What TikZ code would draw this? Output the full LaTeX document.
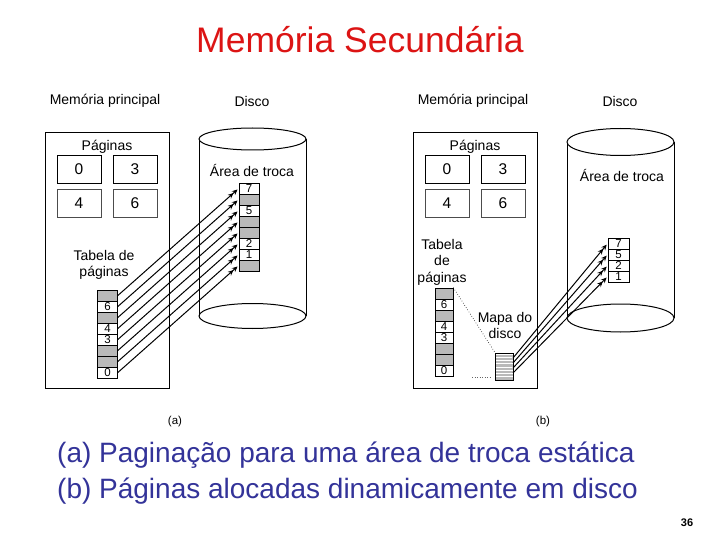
\documentclass[tikz,border=0pt]{standalone}
\usepackage{fontspec}
\setmainfont{Liberation Sans}
\usetikzlibrary{arrows.meta}
\definecolor{titlered}{RGB}{220,20,20}
\definecolor{capblue}{RGB}{51,51,153}
\definecolor{cellgray}{RGB}{185,185,185}
\begin{document}
\begin{tikzpicture}[x=1pt,y=-1pt,
  lbl/.style={font=\fontsize{14}{16}\selectfont, inner sep=0pt, align=center},
  pbox/.style={draw, line width=0.9pt, minimum width=44pt, minimum height=28pt, inner sep=0pt, font=\fontsize{15.5}{17}\selectfont},
  mem/.style={draw, line width=1pt, inner sep=0pt},
  cellw/.style={draw, line width=0.7pt, minimum height=11pt, inner sep=0pt, font=\fontsize{11.5}{11}\selectfont},
  cellg/.style={cellw, fill=cellgray},
  cyl/.style={line width=1pt},
  arr/.style={-{Stealth[length=5.5pt,width=5pt] Stealth[length=5.5pt,width=5pt]}, line width=1pt, shorten >=1.5pt},
]
\useasboundingbox (0,0) rectangle (720,540);

% title
\node (title) [text=titlered, font=\fontsize{35.5}{38}\selectfont, inner sep=0pt] at (360,40) {Memória Secundária};

% ===================== (a) =====================
\node (hmA) [lbl] at (105,101) {Memória principal};
\node (hdA) [lbl] at (252,101) {Disco};
\node (memA) [mem, minimum width=124pt, minimum height=255pt] at (107,260.5) {};
\node (pgA) [lbl] at (107,147) {Páginas};
\node (pA0) [pbox] at (79,169) {0};
\node (pA3) [pbox] at (135,169) {3};
\node (pA4) [pbox, draw=black!70] at (79,203.5) {4};
\node (pA6) [pbox, draw=black!70] at (135,203.5) {6};
\node (tlA) [lbl] at (104,264.5) {Tabela de\\páginas};

% disk cylinder (a)
\draw[cyl] (199,139) -- (199,316);
\draw[cyl] (306,139) -- (306,316);
\draw[cyl, fill=white] (252.5,139) ellipse [x radius=53.5pt, y radius=11pt];
\draw[cyl] (252.5,316) ellipse [x radius=53.5pt, y radius=12.5pt];
\node (swA) [lbl] at (252,170) {Área de troca};

% page table (a)
\foreach \s/\t [count=\i] in {g/{},w/6,g/{},w/4,w/3,g/{},g/{},w/0}
  \node (tA\i) [cell\s, minimum width=20pt] at (107.5,{284.5+11*\i}) {\t};
% swap area (a)
\foreach \s/\t [count=\i] in {w/7,g/{},w/5,g/{},g/{},w/2,w/1,g/{}}
  \node (sA\i) [cell\s, minimum width=20pt] at (249,{177.5+11*\i}) {\t};
\foreach \i in {1,...,8}
  \draw[arr] (tA\i.east) -- (sA\i.west);

\node (capA) [font=\fontsize{11.5}{13}\selectfont, inner sep=0pt] at (175,422) {(a)};

% ===================== (b) =====================
\node (hmB) [lbl] at (473,101) {Memória principal};
\node (hdB) [lbl] at (620,101) {Disco};
\node (memB) [mem, minimum width=124pt, minimum height=255pt] at (475,260.5) {};
\node (pgB) [lbl] at (475,147) {Páginas};
\node (pB0) [pbox] at (447,169) {0};
\node (pB3) [pbox] at (503,169) {3};
\node (pB4) [pbox, draw=black!70] at (447,203.5) {4};
\node (pB6) [pbox, draw=black!70] at (503,203.5) {6};
\node (tlB) [lbl, font=\fontsize{14}{16.5}\selectfont] at (442,262) {Tabela\\de\\páginas};

% disk cylinder (b)
\draw[cyl] (567,142) -- (567,318);
\draw[cyl] (674,142) -- (674,318);
\draw[cyl, fill=white] (620.5,142) ellipse [x radius=53.5pt, y radius=13.5pt];
\draw[cyl] (620.5,318) ellipse [x radius=53.5pt, y radius=14pt];
\node (swB) [lbl] at (622,175) {Área de troca};

% page table (b)
\foreach \s/\t [count=\i] in {g/{},w/6,g/{},w/4,w/3,g/{},g/{},w/0}
  \node (tB\i) [cell\s, minimum width=18pt] at (444,{282.5+11*\i}) {\t};
% swap area (b)
\foreach \t [count=\i] in {7,5,2,1}
  \node (sB\i) [cellw, minimum width=21pt] at (618.5,{232.5+11*\i}) {\t};

% disk map
\node (mapB) [minimum width=17pt, minimum height=26pt, inner sep=0pt] at (504.5,367) {};
\foreach \k in {0,...,7}
  \fill[cellgray] (496,{354+3.25*\k+0.5}) rectangle (513,{354+3.25*\k+2.75});
\draw[line width=0.7pt] (mapB.north west) rectangle (mapB.south east);
\node (mpB) [lbl] at (505,325) {Mapa do\\disco};
\draw[dotted, line width=0.6pt] (tB1.north east) -- (mapB.north west);
\coordinate (dd1) at (472,377);
\coordinate (dd2) at (491,377);
\draw[dotted, line width=0.5pt, black!60] (dd1) -- (dd2);

\coordinate (m1) at (513,358);
\coordinate (m2) at (513,363);
\coordinate (m3) at (513,368);
\coordinate (m4) at (513,373);
\foreach \i in {1,...,4}
  \draw[arr] (m\i) -- (sB\i.west);

\node (capB) [font=\fontsize{11.5}{13}\selectfont, inner sep=0pt] at (543,422) {(b)};

% captions
\node (c1) [text=capblue, font=\fontsize{28}{30}\selectfont, inner sep=0pt, anchor=west] at (57,455) {(a) Paginação para uma área de troca estática};
\node (c2) [text=capblue, font=\fontsize{28}{30}\selectfont, inner sep=0pt, anchor=west] at (57,491) {(b) Páginas alocadas dinamicamente em disco};
\node (num) [font=\bfseries\fontsize{11}{13}\selectfont, inner sep=0pt] at (687,523) {36};
\end{tikzpicture}
\end{document}
